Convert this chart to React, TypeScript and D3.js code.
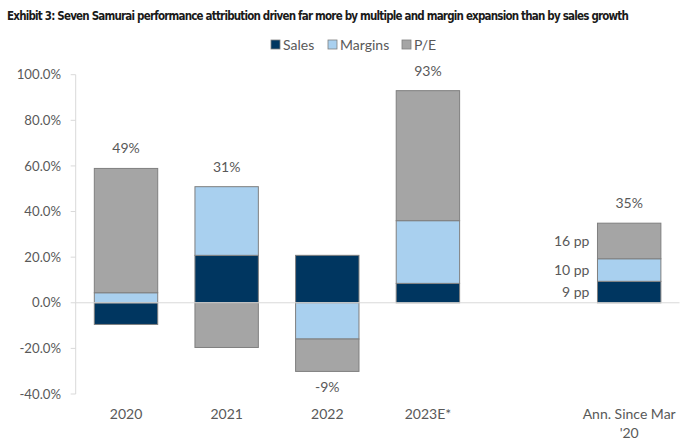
import * as d3 from "d3";

const categories = ["2020", "2021", "2022", "2023E*", "", "Ann. Since Mar '20"];
const sales = [-9.5, 20.8, 20.8, 8.5, null, 9.4];
const margins = [4.4, 30.1, -15.9, 27.5, null, 9.9];
const pe = [54.5, -19.6, -14.2, 57.0, null, 15.6];
const totalLabels = ["49%", "31%", "-9%", "93%", "", "35%"];
const ppLabels = ["9 pp", "10 pp", "16 pp"];
const yTicks = [100, 80, 60, 40, 20, 0, -20, -40];

const SERIES = [
  { key: "sales", name: "Sales", color: "#003660" },
  { key: "margins", name: "Margins", color: "#a9d0ef" },
  { key: "pe", name: "P/E", color: "#a5a5a5" },
];

const W = 680;
const H = 447;
const FONT = "Lato, 'Open Sans', sans-serif";
const TEXT = "#595959";

type Row = { cat: string; sales: number; margins: number; pe: number; has: boolean };

export default function App() {
  const rows: Row[] = categories.map((c, i) => ({
    cat: c,
    sales: sales[i] ?? 0,
    margins: margins[i] ?? 0,
    pe: pe[i] ?? 0,
    has: sales[i] !== null,
  }));

  const x = d3.scaleBand().domain(categories.map((c, i) => `${i}`)).range([75.7, 679.5]).paddingInner(0.37).paddingOuter(0.185);
  const y = d3.scaleLinear().domain([-40, 100]).range([394, 74.7]);

  const stacked = d3
    .stack<Row>()
    .keys(SERIES.map((s) => s.key))
    .offset(d3.stackOffsetDiverging)(rows);

  const xl = x.range()[0];
  const xr = x.range()[1];

  return (
    <svg width={W} height={H} style={{ position: "absolute", left: 0, top: 0, background: "#fff" }} fontFamily={FONT}>
      <text x={7} y={20} fontFamily="'DejaVu Sans Condensed', sans-serif" fontWeight="bold" fontSize={11.5} letterSpacing={-0.8} fill="#1a1a1a">
        Exhibit 3: Seven Samurai performance attribution driven far more by multiple and margin expansion than by sales growth
      </text>

      {/* legend */}
      {SERIES.map((s, i) => {
        const lx = [271, 328, 402][i];
        return (
          <g key={s.key}>
            <rect x={lx} y={40} width={9} height={9} fill={s.color} stroke="#7f7f7f" strokeWidth={0.8} />
            <text x={lx + 12} y={49.5} fontSize={14} fill={TEXT}>
              {s.name}
            </text>
          </g>
        );
      })}

      {/* y axis */}
      <line x1={xl} x2={xl} y1={y(100)} y2={y(-40)} stroke="#d9d9d9" />
      {yTicks.map((t) => (
        <g key={t}>
          <line x1={xl - 5} x2={xl} y1={y(t)} y2={y(t)} stroke="#d9d9d9" />
          <text x={61} y={y(t)} dy="0.35em" textAnchor="end" fontSize={13.2} fill={TEXT}>
            {t.toFixed(1)}%
          </text>
        </g>
      ))}

      {/* bars */}
      {stacked.map((layer, si) =>
        layer.map((d, i) =>
          rows[i].has ? (
            <rect
              key={`${si}-${i}`}
              x={x(`${i}`)}
              width={x.bandwidth()}
              y={y(Math.max(d[0], d[1]))}
              height={Math.abs(y(d[0]) - y(d[1]))}
              fill={SERIES[si].color}
              stroke="#7f7f7f"
              strokeWidth={1}
            />
          ) : null
        )
      )}

      {/* zero line */}
      <line x1={xl} x2={xr} y1={y(0)} y2={y(0)} stroke="#d9d9d9" />

      {/* total labels */}
      {rows.map((r, i) => {
        if (!r.has) return null;
        const top = d3.max(stacked, (l) => l[i][1]) ?? 0;
        const bottom = d3.min(stacked, (l) => l[i][0]) ?? 0;
        const total = r.sales + r.margins + r.pe;
        const cx = (x(`${i}`) ?? 0) + x.bandwidth() / 2;
        const ly = total >= 0 ? y(top) - 20 : y(bottom) + 16;
        return (
          <text key={i} x={cx} y={ly} dy="0.35em" textAnchor="middle" fontSize={14} fill={TEXT}>
            {totalLabels[i]}
          </text>
        );
      })}

      {/* pp labels for last bar */}
      {stacked.map((layer, si) => {
        const i = categories.length - 1;
        const d = layer[i];
        return (
          <text key={si} x={(x(`${i}`) ?? 0) - 8} y={y((d[0] + d[1]) / 2)} dy="0.35em" textAnchor="end" fontSize={14} fill={TEXT}>
            {ppLabels[si]}
          </text>
        );
      })}

      {/* x labels */}
      {categories.map((c, i) => {
        const cx = (x(`${i}`) ?? 0) + x.bandwidth() / 2;
        const lines = c === "Ann. Since Mar '20" ? ["Ann. Since Mar", "'20"] : [c];
        return (
          <text key={i} x={cx} y={414} textAnchor="middle" fontSize={14} fill={TEXT}>
            {lines.map((l, k) => (
              <tspan key={k} x={cx} dy={k === 0 ? "0.35em" : 18.7}>
                {l}
              </tspan>
            ))}
          </text>
        );
      })}
    </svg>
  );
}
